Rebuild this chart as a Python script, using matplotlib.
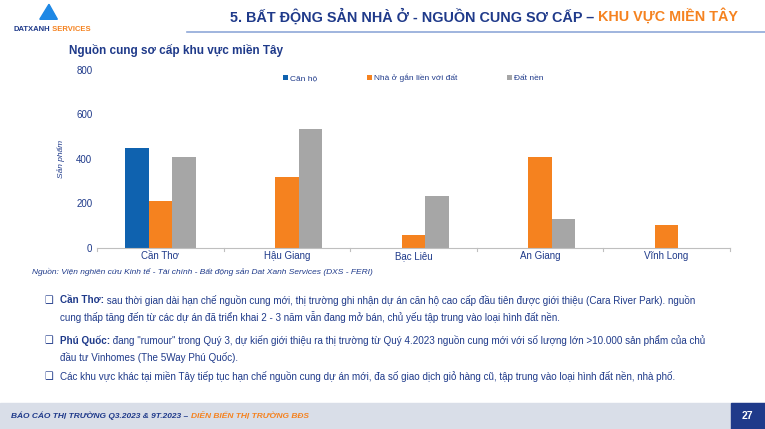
import matplotlib.pyplot as plt
import numpy as np
from matplotlib.patches import Rectangle, Polygon

plt.rcParams['font.family'] = ['Liberation Sans', 'DejaVu Sans']

provinces = ['Cần Thơ', 'Hậu Giang', 'Bạc Liêu', 'An Giang', 'Vĩnh Long']
can_ho = [450, 0, 0, 0, 0]
nha_o = [210, 320, 60, 410, 105]
dat_nen = [410, 535, 235, 130, 0]
series = ['Căn hộ', 'Nhà ở gắn liền với đất', 'Đất nền']
colors = ['#0F62AF', '#F5821F', '#A6A6A6']
yticks = [0, 200, 400, 600, 800]

navy = '#1F3A8A'
orange = '#F5821F'
fig = plt.figure(figsize=(7.65, 4.29), dpi=100)
renderer = fig.canvas.get_renderer()


def chain(x, y, parts, **kw):
    # draw text pieces one after another on one line
    for s, style in parts:
        t = fig.text(x, y, s, **kw, **style)
        x = t.get_window_extent(renderer).x1 / fig.bbox.width
    return x


# header
fig.patches.append(Polygon([[0.052, 0.955], [0.064, 0.99], [0.075, 0.955]], closed=True,
                           transform=fig.transFigure, color='#1E88E5'))
chain(0.018, 0.928, [('DATXANH', dict(color=navy)), (' SERVICES', dict(color=orange))],
      fontsize=5.5, fontweight='bold')
fig.lines.append(plt.Line2D([0.245, 1.0], [0.925, 0.925], transform=fig.transFigure,
                            color='#8FA8D8', lw=1.2))
chain(0.30, 0.962, [('5. BẤT ĐỘNG SẢN NHÀ Ở - NGUỒN CUNG SƠ CẤP – ', dict(color=navy)),
                    ('KHU VỰC MIỀN TÂY', dict(color=orange))],
      fontsize=10.4, fontweight='bold', va='center')
fig.text(0.09, 0.875, 'Nguồn cung sơ cấp khu vực miền Tây', color=navy, fontsize=8.5,
         fontweight='bold')

ax = fig.add_axes([0.127, 0.422, 0.827, 0.415])
x = np.arange(len(provinces))
w = 0.185
for i, (vals, name, c) in enumerate(zip([can_ho, nha_o, dat_nen], series, colors)):
    ax.bar(x + (i - 1) * w, vals, w, color=c, label=name)
ax.set_xlim(-0.5, len(provinces) - 0.5)
ax.set_ylim(0, 800)
ax.set_yticks(yticks)
ax.set_xticks(x)
ax.set_xticklabels(provinces, fontsize=7, color=navy)
ax.tick_params(axis='y', labelsize=7, labelcolor=navy, length=0)
ax.tick_params(axis='x', length=0, pad=2)
for s in ['top', 'right', 'left']:
    ax.spines[s].set_visible(False)
ax.spines['bottom'].set_color('#BFBFBF')
for b in np.arange(-0.5, len(provinces), 1.0):
    ax.plot([b, b], [0, -12], color='#BFBFBF', lw=0.8, clip_on=False)
ax.set_ylabel('Sản phẩm', fontsize=6, color=navy, style='italic', labelpad=8)
ax.legend(loc='upper center', ncol=3, frameon=False, fontsize=6, handlelength=0.6,
          handleheight=0.6, handletextpad=0.2, columnspacing=6, labelcolor=navy,
          bbox_to_anchor=(0.5, 1.02))

fig.text(0.042, 0.362, 'Nguồn: Viện nghiên cứu Kinh tế - Tài chính - Bất động sản Dat Xanh Services (DXS - FERI)',
         fontsize=6, style='italic', color=navy)

bullets = [
    ('Cần Thơ:', ' sau thời gian dài hạn chế nguồn cung mới, thị trường ghi nhận dự án căn hộ cao cấp đầu tiên được giới thiệu (Cara River Park). nguồn',
     'cung thấp tăng đến từ các dự án đã triển khai 2 - 3 năm vẫn đang mở bán, chủ yếu tập trung vào loại hình đất nền.', 0.30),
    ('Phú Quốc:', ' đang "rumour" trong Quý 3, dự kiến giới thiệu ra thị trường từ Quý 4.2023 nguồn cung mới với số lượng lớn >10.000 sản phẩm của chủ',
     'đầu tư Vinhomes (The 5Way Phú Quốc).', 0.207),
    ('', 'Các khu vực khác tại miền Tây tiếp tục hạn chế nguồn cung dự án mới, đa số giao dịch giỏ hàng cũ, tập trung vào loại hình đất nền, nhà phố.',
     '', 0.123),
]
for head, line1, line2, y in bullets:
    fig.text(0.058, y, '❑', fontsize=7, color=navy, family=['DejaVu Sans'], va='center')
    parts = [(line1, dict())]
    if head:
        parts.insert(0, (head, dict(fontweight='bold')))
    chain(0.078, y, parts, fontsize=7.1, color=navy, va='center')
    if line2:
        fig.text(0.078, y - 0.04, line2, fontsize=7.1, color=navy, va='center')

# footer
fig.patches.append(Rectangle((0, 0.0), 1, 0.06, transform=fig.transFigure, color='#D9DEE8'))
fig.patches.append(Rectangle((0.955, 0.0), 0.045, 0.06, transform=fig.transFigure, color=navy))
chain(0.015, 0.03, [('BÁO CÁO THỊ TRƯỜNG Q3.2023 & 9T.2023 – ', dict(color=navy)),
                    ('DIỄN BIẾN THỊ TRƯỜNG BĐS', dict(color=orange))],
      fontsize=6, style='italic', fontweight='bold', va='center')
fig.text(0.977, 0.03, '27', fontsize=7.5, color='white', fontweight='bold', ha='center', va='center')

fig.savefig('out.png', dpi=100)
